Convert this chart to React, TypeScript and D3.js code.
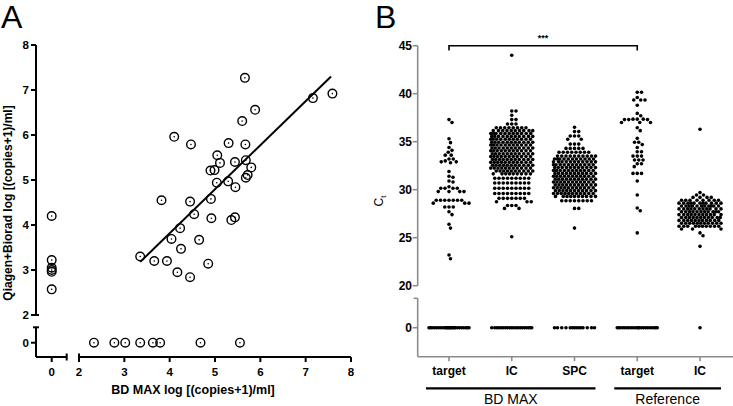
import React from 'react';
import * as d3 from 'd3';

// ---------- Panel A data ----------
const aX = [5.66, 7.59, 7.16, 5.885, 5.6, 4.1, 4.47, 5.3, 5.67, 5.05, 5.11, 5.44, 5.68, 4.9, 4.99, 5.8, 5.04, 5.29, 5.45, 5.72, 5.68, 3.82, 4.45, 4.91, 3.35, 4.54, 4.92, 5.36, 5.44, 4.23, 4.04, 4.65, 4.25, 3.66, 3.94, 4.85, 4.17, 4.45];
const aY = [7.27, 6.92, 6.82, 6.56, 6.31, 5.96, 5.79, 5.82, 5.79, 5.55, 5.38, 5.4, 5.44, 5.21, 5.22, 5.28, 4.94, 4.97, 4.84, 5.11, 5.05, 4.55, 4.52, 4.58, 3.3, 4.24, 4.15, 4.11, 4.17, 3.93, 3.69, 3.67, 3.47, 3.2, 3.2, 3.14, 2.95, 2.84];
// points with BD MAX = 0 (y values)
const aXZeroY = [4.2, 3.22, 3.05, 3.0, 2.96, 2.57];
// points with Qiagen+Biorad = 0 (x values)
const aYZeroX = [2.33, 2.78, 3.02, 3.35, 3.63, 3.79, 4.68, 5.55];
const fitX = [3.35, 7.56];
const fitY = [3.18, 7.3];
const aXTicks = [2, 3, 4, 5, 6, 7, 8];
const aYTicks = [2, 3, 4, 5, 6, 7, 8];

// ---------- Panel B data ----------
const categories = ['target', 'IC', 'SPC', 'target', 'IC'];
const groupLabels = ['BD MAX', 'Reference'];
const groupFirst = [0, 3];
const groupLast = [2, 4];
const bYTicks = [20, 25, 30, 35, 40, 45];

const bdTarget = [37.3, 37.0, 35.3, 34.9, 34.4, 34.1, 33.9, 33.6, 33.6, 33.2, 33.2, 33.0, 32.9, 32.9, 32.8, 31.9, 31.4, 31.3, 30.9, 30.8, 30.3, 30.15, 30.15, 30.15, 30.15, 29.8, 29.8, 29.8, 29.8, 28.9, 28.9, 28.9, 28.9, 28.9, 28.9, 28.9, 28.6, 28.6, 28.6, 28.2, 28.2, 28.2, 27.7, 27.4, 26.4, 26.0, 23.2, 22.8];
const bdIcRows: [number, number][] = [[44.0, 1], [38.2, 2], [37.75, 1], [37.3, 2], [36.85, 3], [36.45, 8], [36.15, 10], [35.85, 11], [35.55, 11], [35.25, 11], [34.95, 11], [34.65, 11], [34.35, 11], [34.05, 11], [33.75, 11], [33.45, 11], [33.15, 11], [32.85, 11], [32.55, 11], [32.25, 11], [31.95, 10], [31.65, 9], [31.2, 9], [30.7, 9], [30.15, 9], [29.6, 9], [29.1, 7], [28.75, 3], [28.35, 3], [28.05, 2], [25.1, 1]];
const bdSpcRows: [number, number][] = [[36.5, 1], [36.05, 2], [35.6, 3], [35.25, 2], [34.75, 3], [34.3, 5], [33.9, 8], [33.5, 10], [33.2, 11], [32.9, 11], [32.6, 11], [32.3, 11], [32.0, 11], [31.7, 11], [31.4, 11], [31.1, 11], [30.8, 11], [30.5, 11], [30.2, 11], [29.9, 11], [29.6, 11], [29.3, 10], [28.85, 8], [28.05, 2], [26.0, 1]];
const refTarget = [40.15, 40.15, 39.6, 39.35, 39.35, 39.35, 38.8, 37.95, 37.7, 37.35, 37.35, 37.3, 37.3, 37.3, 37.35, 37.0, 37.0, 37.0, 36.45, 36.15, 35.35, 34.95, 34.95, 34.7, 34.4, 33.95, 33.95, 33.5, 33.5, 33.5, 33.1, 33.1, 33.1, 32.7, 32.7, 32.4, 31.7, 31.7, 31.7, 30.9, 29.45, 28.1, 27.8, 25.5];
const refIcRows: [number, number][] = [[36.3, 1], [29.7, 1], [29.45, 2], [29.2, 4], [28.9, 8], [28.6, 11], [28.3, 11], [28.0, 11], [27.7, 11], [27.4, 11], [27.1, 11], [26.8, 11], [26.5, 11], [26.2, 10], [25.9, 3], [25.5, 1], [25.2, 1], [24.1, 1]];
const zeroCounts = [26, 20, 14, 22, 1];

const expand = (rows: [number, number][]) => rows.flatMap(([v, n]) => Array.from({ length: n }, () => v));

const FONT = '"Liberation Sans", Arial, Helvetica, sans-serif';

function swarm(vals: number[], cx: number, y: (v: number) => number, maxHalf: number, d: number) {
  const pts = vals.map((v) => ({ v, py: y(v), x: cx }));
  pts.sort((a, b) => a.py - b.py);
  const placed: { x: number; py: number }[] = [];
  const cands: number[] = [0];
  for (let o = 0.25; o <= maxHalf + 1e-9; o += 0.25) { cands.push(o); cands.push(-o); }
  for (const p of pts) {
    const near = placed.filter((q) => Math.abs(q.py - p.py) < d);
    let best = 0, bestScore = -Infinity;
    for (const o of cands) {
      let minD = Infinity;
      for (const q of near) {
        const dd = Math.hypot(q.x - (cx + o), q.py - p.py);
        if (dd < minD) minD = dd;
      }
      if (minD >= d) { best = o; bestScore = Infinity; break; }
      if (minD > bestScore + 1e-6) { bestScore = minD; best = o; }
    }
    p.x = cx + best;
    placed.push(p);
  }
  return pts;
}

export default function App() {
  // ---- Panel A scales ----
  const xA = d3.scaleLinear().domain([2, 8]).range([79, 351]);
  const xA0 = d3.scaleLinear().domain([0, 1]).range([51.7, 97]);
  const yA = d3.scaleLinear().domain([2, 8]).range([315, 45]);
  const yA0 = d3.scaleLinear().domain([0, 1]).range([342.7, 297.7]);
  const axA = 36, ayA = 357;
  const ptsA = [
    ...aX.map((x, i) => ({ x: xA(x), y: yA(aY[i]) })),
    ...aXZeroY.map((y) => ({ x: xA0(0), y: yA(y) })),
    ...aYZeroX.map((x) => ({ x: xA(x), y: yA0(0) })),
  ];
  const line = d3.line<number>().x((_, i) => xA(fitX[i])).y((v) => yA(v));

  // ---- Panel B scales ----
  const xB = d3.scalePoint<number>().domain(d3.range(categories.length)).range([449, 700]);
  const yB = d3.scaleLinear().domain([20, 45]).range([285.7, 45.7]);
  const yB0 = d3.scaleLinear().domain([0, 1]).range([327.7, 318.1]);
  const bx = 417.7, by = 356.7;
  const colData = [bdTarget, expand(bdIcRows), expand(bdSpcRows), refTarget, expand(refIcRows)];
  const dots: { x: number; y: number }[] = [];
  colData.forEach((vals, i) => {
    swarm(vals, xB(i)!, (v) => yB(v), 21, 4.1).forEach((p) => dots.push({ x: p.x, y: p.py }));
    const zeros = Array.from({ length: zeroCounts[i] }, () => 0);
    swarm(zeros, xB(i)!, (v) => yB0(v), 20, 4.1).forEach((p) => dots.push({ x: p.x, y: p.py }));
  });
  const gray = '#8c8c8c';

  return (
    <svg width={733} height={406} style={{ position: 'absolute', left: 0, top: 0, background: '#fff' }} fontFamily={FONT}>
      <rect width={733} height={406} fill="#fff" />
      {/* ===== Panel A ===== */}
      <text x={1} y={28} fontSize={32} fill="#000">A</text>
      <g stroke="#000" strokeWidth={2} fill="none">
        <line x1={axA} y1={yA(8)} x2={axA} y2={yA(2)} />
        <line x1={axA - 3} y1={yA(2)} x2={axA + 3} y2={yA(2)} />
        <line x1={axA} y1={327.3} x2={axA} y2={ayA} />
        <line x1={axA - 3} y1={327.3} x2={axA + 3} y2={327.3} />
        {aYTicks.map((t) => <line key={t} x1={axA - 5} y1={yA(t)} x2={axA} y2={yA(t)} />)}
        <line x1={axA - 5} y1={yA0(0)} x2={axA} y2={yA0(0)} />
        <line x1={axA} y1={ayA} x2={66.7} y2={ayA} />
        <line x1={66.7} y1={ayA - 3.5} x2={66.7} y2={ayA + 3.5} />
        <line x1={xA0(0)} y1={ayA} x2={xA0(0)} y2={ayA + 5} />
        <line x1={xA(2)} y1={ayA} x2={xA(8)} y2={ayA} />
        <line x1={xA(2)} y1={ayA - 3.5} x2={xA(2)} y2={ayA + 3.5} />
        {aXTicks.map((t) => <line key={t} x1={xA(t)} y1={ayA} x2={xA(t)} y2={ayA + 5} />)}
      </g>
      <g fontSize={11.5} fontWeight="bold" fill="#000">
        {aYTicks.map((t) => <text key={t} x={axA - 7} y={yA(t) + 4} textAnchor="end">{t}</text>)}
        <text x={axA - 7} y={yA0(0) + 4} textAnchor="end">0</text>
        {aXTicks.map((t) => <text key={t} x={xA(t)} y={376} textAnchor="middle">{t}</text>)}
        <text x={xA0(0)} y={376} textAnchor="middle">0</text>
      </g>
      <text x={193} y={393.5} fontSize={12.5} fontWeight="bold" textAnchor="middle">BD MAX log [(copies+1)/ml]</text>
      <text transform="translate(11.5,203) rotate(-90)" fontSize={12} fontWeight="bold" textAnchor="middle">Qiagen+Biorad log [(copies+1)/ml]</text>
      <path d={line(fitY) || ''} stroke="#000" strokeWidth={2} fill="none" />
      {ptsA.map((p, i) => (
        <g key={i}>
          <circle cx={p.x} cy={p.y} r={4.3} fill="none" stroke="#000" strokeWidth={1.4} />
          <circle cx={p.x} cy={p.y} r={0.8} fill="#000" />
        </g>
      ))}

      {/* ===== Panel B ===== */}
      <text x={375} y={28} fontSize={32} fill="#000">B</text>
      <g stroke={gray} strokeWidth={1.6} fill="none">
        <line x1={bx} y1={yB(45)} x2={bx} y2={yB(20)} />
        <line x1={bx} y1={298.3} x2={bx} y2={by} />
        <line x1={bx - 4} y1={298.3} x2={bx} y2={298.3} />
        {bYTicks.map((t) => <line key={t} x1={bx - 5} y1={yB(t)} x2={bx} y2={yB(t)} />)}
        <line x1={bx - 5} y1={yB0(0)} x2={bx} y2={yB0(0)} />
        <line x1={bx} y1={by} x2={733} y2={by} />
        {categories.map((_, i) => <line key={i} x1={xB(i)} y1={by} x2={xB(i)} y2={by + 4.5} />)}
      </g>
      <g fontSize={12} fontWeight="bold" fill="#000">
        {bYTicks.map((t) => <text key={t} x={412} y={yB(t) + 4.3} textAnchor="end">{t}</text>)}
        <text x={412} y={yB0(0) + 4.3} textAnchor="end">0</text>
        {categories.map((c, i) => <text key={i} x={xB(i)} y={375} textAnchor="middle">{c}</text>)}
      </g>
      <text transform="translate(383,201) rotate(-90)" fontSize={12} textAnchor="middle">
        C<tspan fontSize={8} dy={3}>t</tspan>
      </text>
      {groupLabels.map((g, i) => {
        const x1 = xB(groupFirst[i])! - 23;
        const x2 = xB(groupLast[i])! + 21;
        return (
          <g key={g}>
            <line x1={x1} y1={388.3} x2={x2} y2={388.3} stroke="#000" strokeWidth={2.2} />
            <text x={(x1 + x2) / 2} y={403.5} fontSize={14} textAnchor="middle">{g}</text>
          </g>
        );
      })}
      <path d={`M${xB(0)},${50.5}V${45.7}H${xB(3)}V${50.5}`} stroke="#000" strokeWidth={1.6} fill="none" />
      <text x={(xB(0)! + xB(3)!) / 2} y={41} fontSize={9} fontWeight="bold" textAnchor="middle">***</text>
      {dots.map((p, i) => <circle key={i} cx={p.x} cy={p.y} r={1.8} fill="#000" />)}
    </svg>
  );
}
